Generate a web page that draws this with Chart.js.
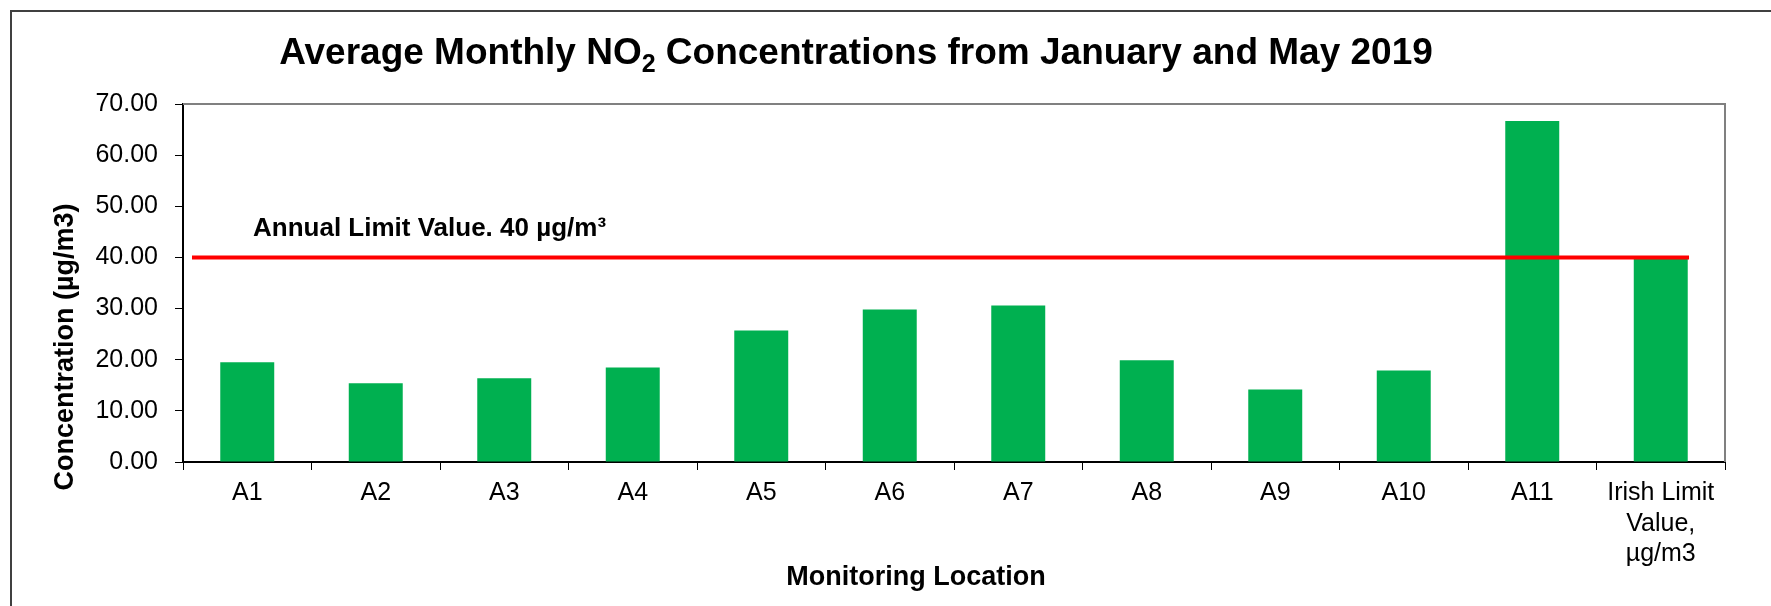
<!DOCTYPE html>
<html>
<head>
<meta charset="utf-8">
<script src="https://cdn.jsdelivr.net/npm/chart.js"></script>
<style>
    body { margin: 0; background: #ffffff; }
    canvas { display: block; }
</style>
</head>
<body>
<canvas id="chart" width="1771" height="606"></canvas>
<script>
// chart data
const locations = ['A1', 'A2', 'A3', 'A4', 'A5', 'A6', 'A7', 'A8', 'A9', 'A10', 'A11', ['Irish Limit', 'Value,', 'µg/m3']];
const concentrations = [19.5, 15.4, 16.4, 18.5, 25.7, 29.8, 30.6, 19.9, 14.2, 17.9, 66.7, 40.0];
const limitValue = 40;
const limitLineX = [-0.43, 11.22];   // in category units
const yTicks = { min: 0, max: 70, step: 10 };

const FONT = '"Liberation Sans", Arial, sans-serif';

const textPlugin = {
    id: 'texts',
    beforeDatasetsDraw(chart) {
        const { ctx, chartArea: a } = chart;
        ctx.save();
        // plot frame (top + right)
        ctx.strokeStyle = '#808080';
        ctx.lineWidth = 2;
        ctx.beginPath();
        ctx.moveTo(a.left, a.top);
        ctx.lineTo(a.right, a.top);
        ctx.lineTo(a.right, a.bottom);
        ctx.stroke();
        ctx.restore();
    },
    afterDraw(chart) {
        const { ctx } = chart;
        const y = chart.scales.y;
        ctx.save();
        ctx.fillStyle = '#000';

        // outer border
        ctx.strokeStyle = '#404040';
        ctx.lineWidth = 2;
        ctx.beginPath();
        ctx.moveTo(11, 606);
        ctx.lineTo(11, 11);
        ctx.lineTo(1771, 11);
        ctx.stroke();

        // title with subscript
        const parts = [
            { t: 'Average Monthly NO', f: `bold 37px ${FONT}`, dy: 0 },
            { t: '2', f: `bold 25px ${FONT}`, dy: 8 },
            { t: ' Concentrations from January and May 2019', f: `bold 37px ${FONT}`, dy: 0 }
        ];
        let total = 0;
        parts.forEach(p => { ctx.font = p.f; p.w = ctx.measureText(p.t).width; total += p.w; });
        let x = 856 - total / 2;
        ctx.textBaseline = 'alphabetic';
        ctx.textAlign = 'left';
        parts.forEach(p => { ctx.font = p.f; ctx.fillText(p.t, x, 64 + p.dy); x += p.w; });

        // limit label
        ctx.font = `bold 26px ${FONT}`;
        ctx.fillText('Annual Limit Value. 40 µg/m³', 253, y.getPixelForValue(limitValue) - 21);

        // x axis title
        ctx.textAlign = 'center';
        ctx.textBaseline = 'middle';
        ctx.font = `bold 27px ${FONT}`;
        ctx.fillText('Monitoring Location', 916, 578);

        // y axis title
        ctx.translate(66, 347);
        ctx.rotate(-Math.PI / 2);
        ctx.fillText('Concentration (µg/m3)', 0, 0);
        ctx.restore();
    }
};

new Chart(document.getElementById('chart').getContext('2d'), {
    type: 'bar',
    data: {
        labels: locations,
        datasets: [
            {
                type: 'line',
                data: limitLineX.map(v => ({ x: v, y: limitValue })),
                xAxisID: 'xl',
                borderColor: '#ff0000',
                borderWidth: 4,
                pointRadius: 0,
                fill: false,
                order: 0
            },
            {
                type: 'bar',
                data: concentrations,
                xAxisID: 'x',
                backgroundColor: '#00b050',
                barPercentage: 0.42,
                categoryPercentage: 1,
                grouped: false,
                order: 1
            }
        ]
    },
    options: {
        responsive: false,
        animation: false,
        devicePixelRatio: 1,
        layout: { padding: { top: 104, right: 46, left: 0, bottom: 0 } },
        plugins: { legend: { display: false }, tooltip: { enabled: false } },
        scales: {
            x: {
                type: 'category',
                afterFit: s => { s.height = 144; },
                grid: { drawOnChartArea: false, color: '#000', tickLength: 8 },
                border: { color: '#000', width: 2 },
                ticks: { color: '#000', padding: 8, maxRotation: 0, autoSkip: false,
                         font: { family: FONT, size: 25, lineHeight: 1.22 } }
            },
            xl: {
                type: 'linear',
                display: false,
                offset: false,
                min: -0.5,
                max: 11.5
            },
            y: {
                min: yTicks.min,
                max: yTicks.max,
                afterFit: s => { s.width = 183; },
                grid: { drawOnChartArea: false, color: '#000', tickLength: 8 },
                border: { color: '#000', width: 2 },
                ticks: { stepSize: yTicks.step, color: '#000', padding: 17,
                         font: { family: FONT, size: 25 },
                         callback: v => v.toFixed(2) }
            }
        }
    },
    plugins: [textPlugin]
});
</script>
</body>
</html>
